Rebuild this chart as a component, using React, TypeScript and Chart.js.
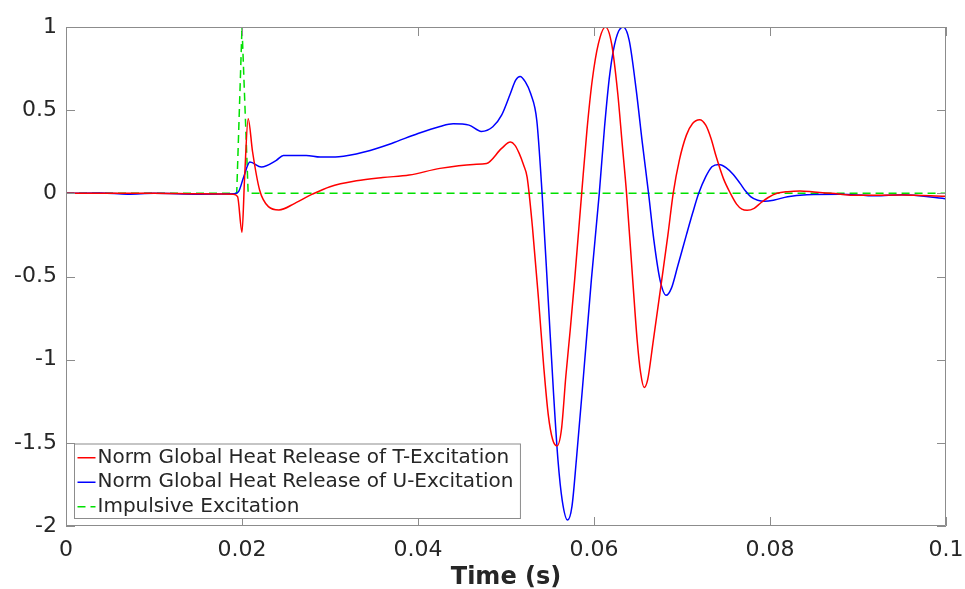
import React, { useEffect, useRef } from "react";
import { Chart, registerables } from "chart.js";

Chart.register(...registerables);

const tT = [0, 0.005, 0.01, 0.015, 0.019, 0.0195, 0.02, 0.0203, 0.0207, 0.0212, 0.022, 0.023, 0.0242, 0.026, 0.028, 0.03, 0.033, 0.036, 0.039, 0.0425, 0.0463, 0.0478, 0.0495, 0.0505, 0.051, 0.0515, 0.052, 0.0524, 0.053, 0.0537, 0.0543, 0.0548, 0.0553, 0.0558, 0.0563, 0.0568, 0.0573, 0.0578, 0.0586, 0.0592, 0.0598, 0.0605, 0.0613, 0.062, 0.0627, 0.0632, 0.0637, 0.0644, 0.0649, 0.0653, 0.0657, 0.0661, 0.0667, 0.0677, 0.0684, 0.069, 0.0697, 0.0705, 0.0712, 0.072, 0.0727, 0.0733, 0.0739, 0.0747, 0.0755, 0.0762, 0.0768, 0.0774, 0.0782, 0.079, 0.0798, 0.0808, 0.082, 0.0834, 0.085, 0.087, 0.09, 0.095, 0.0999];
const yT = [0, 0, 0, -0.003, -0.005, -0.02, -0.234, 0.1, 0.449, 0.25, 0.02, -0.08, -0.1, -0.06, -0.005, 0.04, 0.075, 0.095, 0.11, 0.15, 0.174, 0.18, 0.27, 0.308, 0.29, 0.24, 0.17, 0.098, -0.2, -0.64, -1.05, -1.33, -1.48, -1.518, -1.42, -1.1, -0.82, -0.52, 0, 0.38, 0.68, 0.9, 1.0, 0.9, 0.6, 0.3, 0, -0.52, -0.88, -1.08, -1.167, -1.12, -0.9, -0.52, -0.25, 0, 0.2, 0.35, 0.42, 0.443, 0.41, 0.33, 0.218, 0.09, 0, -0.065, -0.095, -0.102, -0.09, -0.055, -0.025, 0, 0.01, 0.014, 0.008, 0, -0.012, -0.01, -0.018];

const tU = [0, 0.004, 0.007, 0.01, 0.015, 0.019, 0.0196, 0.0202, 0.0209, 0.0222, 0.0239, 0.0247, 0.0273, 0.0289, 0.031, 0.034, 0.037, 0.04, 0.0425, 0.044, 0.0458, 0.0472, 0.0485, 0.0495, 0.0505, 0.0511, 0.0516, 0.0522, 0.0528, 0.0535, 0.0541, 0.0548, 0.0554, 0.0559, 0.0564, 0.057, 0.0575, 0.058, 0.0588, 0.0597, 0.0606, 0.0612, 0.0618, 0.0625, 0.0633, 0.064, 0.0648, 0.0655, 0.0662, 0.0668, 0.0675, 0.0682, 0.0688, 0.0695, 0.0705, 0.0712, 0.0719, 0.0727, 0.0734, 0.0742, 0.075, 0.0758, 0.0766, 0.0772, 0.0778, 0.0786, 0.0794, 0.0805, 0.082, 0.0842, 0.088, 0.092, 0.095, 0.0999];
const yU = [0, 0.002, -0.005, 0, -0.005, -0.003, 0.01, 0.1, 0.188, 0.158, 0.198, 0.228, 0.228, 0.218, 0.22, 0.25, 0.3, 0.36, 0.402, 0.418, 0.41, 0.372, 0.4, 0.47, 0.6, 0.68, 0.703, 0.67, 0.6, 0.438, 0, -0.643, -1.2, -1.6, -1.85, -1.964, -1.88, -1.6, -1.1, -0.52, 0, 0.4, 0.72, 0.93, 1.0, 0.92, 0.62, 0.3, 0, -0.28, -0.52, -0.613, -0.57, -0.44, -0.25, -0.12, 0, 0.1, 0.16, 0.174, 0.155, 0.115, 0.06, 0.015, -0.02, -0.042, -0.048, -0.04, -0.02, -0.008, -0.005, -0.015, -0.008, -0.032];

const tImp = [0, 0.0194, 0.02, 0.0207, 0.1];
const yImp = [0, 0, 1, 0, 0];

const xTicks = [0, 0.02, 0.04, 0.06, 0.08, 0.1];
const yTicks = [-2, -1.5, -1, -0.5, 0, 0.5, 1];

const labels = [
  "Norm Global Heat Release of T-Excitation",
  "Norm Global Heat Release of U-Excitation",
  "Impulsive Excitation",
];

const toPts = (xs: number[], ys: number[]) => xs.map((x, i) => ({ x, y: ys[i] }));

const FONT = "'DejaVu Sans', sans-serif";

const framePlugin = {
  id: "frame",
  afterDatasetsDraw(chart: any) {
    const { ctx, chartArea: a, scales } = chart;
    const xs = scales.x, ys = scales.y;
    ctx.save();
    ctx.strokeStyle = "#8c8c8c";
    ctx.lineWidth = 1;
    ctx.beginPath();
    ctx.rect(a.left + 0.5, a.top + 0.5, a.right - a.left - 1, a.bottom - a.top - 1);
    ctx.stroke();
    const tl = 9;
    ctx.beginPath();
    xTicks.forEach((v) => {
      const px = Math.round(xs.getPixelForValue(v)) + 0.5;
      ctx.moveTo(px, a.bottom);
      ctx.lineTo(px, a.bottom - tl);
      ctx.moveTo(px, a.top);
      ctx.lineTo(px, a.top + tl);
    });
    yTicks.forEach((v) => {
      const py = Math.round(ys.getPixelForValue(v)) + 0.5;
      ctx.moveTo(a.left, py);
      ctx.lineTo(a.left + tl, py);
      ctx.moveTo(a.right, py);
      ctx.lineTo(a.right - tl, py);
    });
    ctx.stroke();

    // legend
    ctx.font = `20px ${FONT}`;
    const ds = chart.data.datasets;
    let maxW = 0;
    ds.forEach((d: any) => { maxW = Math.max(maxW, ctx.measureText(d.label).width); });
    const boxL = a.left + 8.5;
    const rowH = 24.5;
    const boxH = ds.length * rowH + 1;
    const boxB = a.bottom - 7.5;
    const boxT = boxB - boxH;
    const boxW = 3 + 18 + 3 + maxW + 6;
    ctx.fillStyle = "#ffffff";
    ctx.fillRect(boxL, boxT, boxW, boxH);
    ctx.strokeStyle = "#8c8c8c";
    ctx.strokeRect(boxL, boxT, boxW, boxH);
    ds.forEach((d: any, i: number) => {
      const cy = boxT + rowH * (i + 0.5) + 1.5;
      ctx.strokeStyle = d.borderColor;
      ctx.lineWidth = 1.5;
      ctx.setLineDash(d.borderDash || []);
      ctx.beginPath();
      ctx.moveTo(boxL + 3, cy);
      ctx.lineTo(boxL + 21, cy);
      ctx.stroke();
      ctx.setLineDash([]);
      ctx.fillStyle = "#262626";
      ctx.textBaseline = "middle";
      ctx.textAlign = "left";
      ctx.fillText(d.label, boxL + 23, cy);
    });
    ctx.restore();
  },
};

export default function App() {
  const ref = useRef<HTMLCanvasElement | null>(null);
  useEffect(() => {
    document.body.style.margin = "0";
    const canvas = ref.current!;
    const chart = new Chart(canvas, {
      type: "scatter",
      data: {
        datasets: [
          {
            label: labels[0],
            data: toPts(tT, yT),
            showLine: true,
            borderColor: "#ff0000",
            borderWidth: 1.5,
            pointRadius: 0,
            cubicInterpolationMode: "monotone",
          },
          {
            label: labels[1],
            data: toPts(tU, yU),
            showLine: true,
            borderColor: "#0000ff",
            borderWidth: 1.5,
            pointRadius: 0,
            cubicInterpolationMode: "monotone",
          },
          {
            label: labels[2],
            data: toPts(tImp, yImp),
            showLine: true,
            borderColor: "#00e000",
            borderWidth: 1.5,
            borderDash: [8, 5],
            pointRadius: 0,
          },
        ],
      },
      options: {
        animation: false,
        responsive: false,
        devicePixelRatio: 1,
        layout: { padding: { top: 27, right: 19, left: 0, bottom: 0 } },
        plugins: { legend: { display: false }, tooltip: { enabled: false } },
        scales: {
          x: {
            type: "linear",
            min: 0,
            max: 0.1,
            afterBuildTicks: (s: any) => { s.ticks = xTicks.map((v) => ({ value: v })); },
            afterFit: (s: any) => { s.height = 63; s.paddingLeft = 0; s.paddingRight = 0; },
            grid: { display: false, drawTicks: false },
            border: { display: false },
            ticks: {
              font: { family: FONT, size: 22 },
              color: "#262626",
              padding: 11,
              maxRotation: 0,
              callback: (v: any) => String(Number(Number(v).toFixed(3))),
            },
            title: {
              display: true,
              text: "Time (s)",
              font: { family: FONT, size: 24, weight: "bold" },
              color: "#262626",
              padding: { top: 0, bottom: -3 },
            },
          },
          y: {
            min: -2,
            max: 1,
            afterBuildTicks: (s: any) => { s.ticks = yTicks.map((v) => ({ value: v })); },
            afterFit: (s: any) => { s.width = 66; s.paddingTop = 0; s.paddingBottom = 0; },
            grid: { display: false, drawTicks: false },
            border: { display: false },
            ticks: {
              font: { family: FONT, size: 22 },
              color: "#262626",
              padding: 9,
              callback: (v: any) => String(Number(Number(v).toFixed(2))),
            },
          },
        },
      },
      plugins: [framePlugin],
    } as any);
    return () => chart.destroy();
  }, []);
  return (
    <div style={{ position: "absolute", left: 0, top: 0, width: 965, height: 589 }}>
      <canvas ref={ref} width={965} height={589} style={{ width: 965, height: 589 }} />
    </div>
  );
}
